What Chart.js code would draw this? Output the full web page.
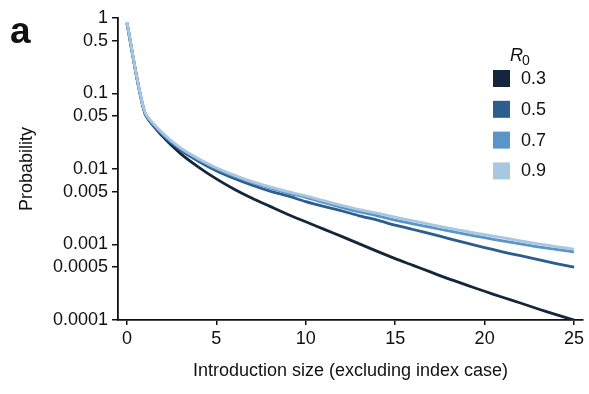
<!DOCTYPE html>
<html>
<head>
<meta charset="utf-8">
<script src="https://cdn.jsdelivr.net/npm/chart.js@4/dist/chart.umd.min.js"></script>
<style>
  html, body { margin: 0; padding: 0; background: #fff; }
  #wrap { width: 589px; height: 394px; }
</style>
</head>
<body>
<div id="wrap"><canvas id="line-Chart" width="589" height="394"></canvas></div>
<script>
// introduction size (excluding index case)
var sizes = [0,1,2,3,4,5,6,7,8,9,10,11,12,13,14,15,16,17,18,19,20,21,22,23,24,25];

// probability for each R0
var r03 = [0.85, 0.055, 0.027, 0.0160, 0.0106, 0.0074, 0.0054, 0.0041, 0.0032, 0.0025, 0.0020,
           0.00160, 0.00128, 0.00102, 0.00081, 0.00065, 0.00053, 0.00043, 0.00035, 0.00029, 0.00024,
           0.00020, 0.000168, 0.000140, 0.000118, 0.000100];
var r05 = [0.86, 0.055, 0.028, 0.0178, 0.0127, 0.0095, 0.0075, 0.0061, 0.0051, 0.0044, 0.0037,
           0.0032, 0.0028, 0.0024, 0.0021, 0.0018, 0.00158, 0.00138, 0.00120, 0.00104, 0.00091,
           0.00080, 0.00071, 0.00063, 0.00056, 0.00050];
var r07 = [0.87, 0.056, 0.029, 0.0186, 0.0134, 0.0101, 0.0080, 0.0066, 0.0056, 0.0048, 0.0042,
           0.0036, 0.0031, 0.0027, 0.0024, 0.0021, 0.00188, 0.00168, 0.00151, 0.00136, 0.00123,
           0.00112, 0.00102, 0.00093, 0.00086, 0.00080];
var r09 = [0.88, 0.057, 0.030, 0.0190, 0.0137, 0.0104, 0.0083, 0.0068, 0.0058, 0.0050, 0.0044,
           0.0038, 0.0033, 0.0029, 0.0026, 0.0023, 0.00205, 0.00184, 0.00165, 0.00149, 0.00135,
           0.00123, 0.00112, 0.00102, 0.00094, 0.00087];

var r0Labels = ['0.3', '0.5', '0.7', '0.9'];
var colori = ['#13263b', '#2d5d8f', '#5b94c8', '#a8c8e2'];

var xTicks = [0, 5, 10, 15, 20, 25];
var yTicks = [1, 0.5, 0.1, 0.05, 0.01, 0.005, 0.001, 0.0005, 0.0001];
var yTickLabels = ['1', '0.5', '0.1', '0.05', '0.01', '0.005', '0.001', '0.0005', '0.0001'];

var font = '"Liberation Sans", Arial, Helvetica, sans-serif';

function pts(arr) {
    var out = [];
    for (var i = 0; i < sizes.length; i++) {
        out.push({x: sizes[i], y: arr[i]});
    }
    return out;
}

// legend + panel letter drawn by hand (R0 title needs italic R and subscript 0)
var extras = {
    id: 'extras',
    afterDraw: function (chart) {
        var ctx = chart.ctx;
        ctx.save();
        ctx.fillStyle = '#111';
        ctx.textBaseline = 'alphabetic';
        ctx.textAlign = 'left';
        ctx.font = 'bold 37px ' + font;
        ctx.fillText('a', 10, 43);

        ctx.font = 'italic 18px ' + font;
        ctx.fillText('R', 510, 61);
        ctx.font = '14px ' + font;
        ctx.fillText('0', 522, 65);

        var ds = chart.data.datasets;
        for (var i = 0; i < ds.length; i++) {
            var top = 70 + i * 30.8;
            ctx.fillStyle = ds[i].borderColor;
            ctx.fillRect(493, top, 17, 17);
            ctx.fillStyle = '#111';
            ctx.font = '18px ' + font;
            ctx.textBaseline = 'middle';
            ctx.fillText(ds[i].label, 521, top + 9);
        }
        ctx.restore();
    }
};

var ctx = document.getElementById('line-Chart');
var datasets = [];
var serie = [r03, r05, r07, r09];
for (var i = 0; i < serie.length; i++) {
    datasets.push({
        label: r0Labels[i],
        data: pts(serie[i]),
        borderColor: colori[i],
        backgroundColor: colori[i],
        borderWidth: 2.8,
        pointRadius: 0,
        tension: 0.25,
        fill: false,
        order: serie.length - i
    });
}

var chart = new Chart(ctx, {
    type: 'line',
    data: { datasets: datasets },
    options: {
        responsive: false,
        animation: false,
        layout: { padding: { top: 18, right: 6, left: 0, bottom: 0 } },
        plugins: {
            legend: { display: false },
            tooltip: { enabled: false }
        },
        scales: {
            x: {
                type: 'linear',
                min: -0.5,
                max: 25.5,
                afterBuildTicks: function (scale) {
                    scale.ticks = xTicks.map(function (v) { return {value: v}; });
                },
                afterFit: function (scale) { scale.height = 74; },
                ticks: {
                    color: '#111',
                    font: { family: font, size: 18 },
                    padding: 3,
                    maxRotation: 0,
                    autoSkip: false
                },
                grid: { drawOnChartArea: false, drawTicks: true, tickLength: 5, color: '#111', lineWidth: 1.5 },
                border: { color: '#111', width: 1.8 },
                title: {
                    display: true,
                    text: 'Introduction size (excluding index case)',
                    color: '#111',
                    font: { family: font, size: 18 },
                    padding: { top: 0, bottom: 12 }
                }
            },
            y: {
                type: 'logarithmic',
                min: 0.0001,
                max: 1,
                afterBuildTicks: function (scale) {
                    scale.ticks = yTicks.map(function (v) { return {value: v}; });
                },
                afterFit: function (scale) { scale.width = 118; },
                ticks: {
                    color: '#111',
                    font: { family: font, size: 18 },
                    padding: 4,
                    autoSkip: false,
                    callback: function (value, index) { return yTickLabels[index]; }
                },
                grid: { drawOnChartArea: false, drawTicks: true, tickLength: 6, color: '#111', lineWidth: 1.5 },
                border: { color: '#111', width: 1.8 },
                title: {
                    display: true,
                    text: 'Probability',
                    color: '#111',
                    font: { family: font, size: 18 },
                    padding: { top: 16, bottom: 0 }
                }
            }
        }
    },
    plugins: [extras]
});
</script>
</body>
</html>
